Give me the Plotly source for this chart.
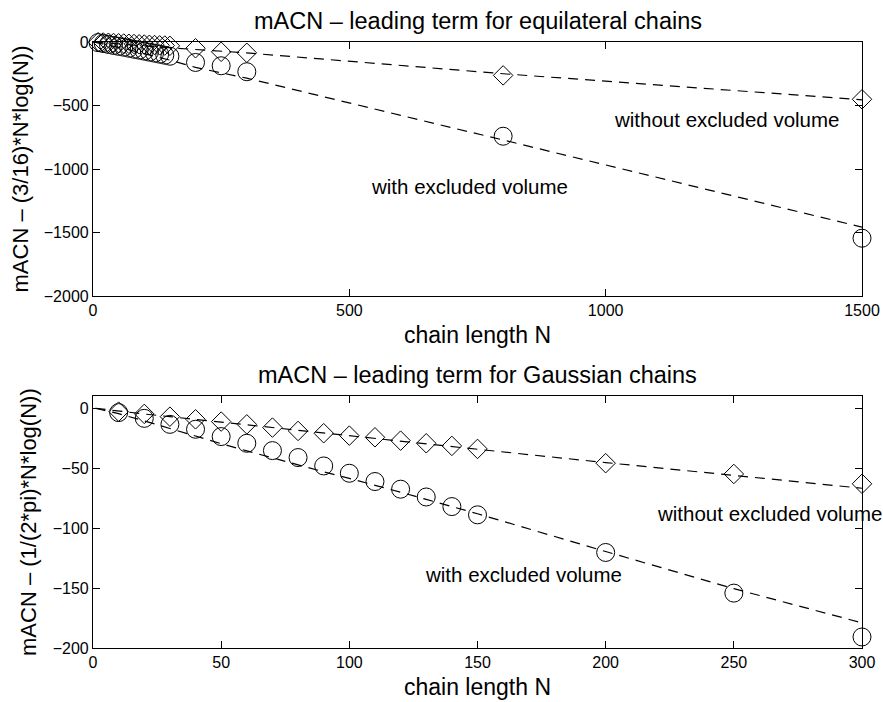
import plotly.graph_objects as go

# ---------------- data: top panel (equilateral chains) ----------------
n_eq = [10, 20, 30, 40, 50, 60, 70, 80, 90, 100, 110, 120, 130, 140, 150, 200, 250, 300, 800, 1500]
eq_without = [-2, -4, -6, -8, -10, -12, -14, -16, -18, -20, -22, -24, -26, -28, -30, -49, -77, -85, -263, -451]
eq_with = [-5, -12, -19, -27, -34, -41, -49, -57, -64, -72, -80, -88, -96, -104, -112, -161, -187, -234, -742, -1545]

n_eq_fit = [1, 10, 20, 30, 40, 50, 60, 70, 80, 90, 100, 110, 120, 130, 140, 150, 200, 250, 300, 800, 1500]
eq_without_fit = [0, -3, -6, -9, -12, -15, -18, -21, -24, -27, -30, -33, -36, -39, -42, -45, -59, -72, -86, -250, -455]
eq_with_fit = [0, -7, -15, -24, -33, -42, -51, -61, -71, -81, -91, -101, -111, -121, -132, -143, -200, -245, -285, -772, -1458]

# ---------------- data: bottom panel (Gaussian chains) ----------------
n_ga = [10, 20, 30, 40, 50, 60, 70, 80, 90, 100, 110, 120, 130, 140, 150, 200, 250, 300]
ga_without = [-2.8, -4.7, -7.0, -9.2, -11.1, -13.4, -16.1, -18.9, -20.8, -22.8, -24.2, -27.0, -29.2, -31.4, -33.9, -45.8, -54.8, -63.0]
ga_with = [-3.6, -8.4, -13.4, -17.5, -23.6, -29.2, -35.3, -41.1, -48.1, -54.2, -61.1, -67.5, -74.0, -82.0, -88.9, -120.3, -154.2, -190.8]

n_ga_fit = [1, 10, 20, 30, 40, 50, 60, 70, 80, 90, 100, 110, 120, 130, 140, 150, 200, 250, 300]
ga_without_fit = [0, -2.5, -4.8, -7.0, -9.3, -11.6, -13.9, -16.2, -18.4, -20.6, -22.8, -25.0, -27.5, -29.8, -32.0, -34.2, -45.3, -56.2, -66.7]
ga_with_fit = [0, -4.5, -10.5, -17.0, -23.5, -29.5, -35.5, -41.5, -47.5, -53.0, -58.5, -64.0, -70.0, -76.0, -82.0, -88.0, -119.5, -150.5, -179.0]

# labels
title_top = "mACN – leading term for equilateral chains"
title_bot = "mACN – leading term for Gaussian chains"
ylab_top = "mACN – (3/16)*N*log(N))"
ylab_bot = "mACN – (1/(2*pi)*N*log(N))"
xlab = "chain length N"
ann_without = "without excluded volume"
ann_with = "with excluded volume"

FONT = "Liberation Sans, Arial, Helvetica, sans-serif"
dash = "10px,7px"

fig = go.Figure()

def add_panel(xa, ya, nfit, fit_wo, fit_w, n, wo, w):
    fig.add_trace(go.Scatter(x=nfit, y=fit_wo, mode="lines", xaxis=xa, yaxis=ya,
                             line=dict(color="black", width=1.2, dash=dash), showlegend=False))
    fig.add_trace(go.Scatter(x=nfit, y=fit_w, mode="lines", xaxis=xa, yaxis=ya,
                             line=dict(color="black", width=1.2, dash=dash), showlegend=False))
    fig.add_trace(go.Scatter(x=n, y=wo, mode="markers", xaxis=xa, yaxis=ya, cliponaxis=False,
                             marker=dict(symbol="diamond-open", size=15, color="black",
                                         line=dict(color="black", width=1)), showlegend=False))
    fig.add_trace(go.Scatter(x=n, y=w, mode="markers", xaxis=xa, yaxis=ya, cliponaxis=False,
                             marker=dict(symbol="circle-open", size=18, color="black",
                                         line=dict(color="black", width=1)), showlegend=False))

add_panel("x", "y", n_eq_fit, eq_without_fit, eq_with_fit, n_eq, eq_without, eq_with)
add_panel("x2", "y2", n_ga_fit, ga_without_fit, ga_with_fit, n_ga, ga_without, ga_with)

axis_common = dict(showline=True, linecolor="black", linewidth=1.2, mirror="ticks",
                   ticks="inside", ticklen=7, tickwidth=1, tickcolor="black",
                   showgrid=False, zeroline=False, automargin=False,
                   tickfont=dict(family=FONT, size=16, color="black"))

W, H = 883, 702
ml, mr, mt, mb = 93, 21, 42, 54
ph = H - mt - mb  # 606
top_dom = [(ph - (296 - mt)) / ph, 1.0]
bot_dom = [0.0, (H - mb - 396.3) / ph]

fig.update_layout(
    width=W, height=H,
    margin=dict(l=ml, r=mr, t=mt, b=mb),
    paper_bgcolor="white", plot_bgcolor="white",
    font=dict(family=FONT, color="black"),
    xaxis=dict(axis_common, domain=[0, 1], anchor="y", range=[0, 1500],
               tickvals=[0, 500, 1000, 1500],
               title=dict(text=xlab, font=dict(family=FONT, size=23), standoff=8)),
    yaxis=dict(axis_common, domain=top_dom, anchor="x", range=[-2000, 0],
               tickvals=[0, -500, -1000, -1500, -2000],
               title=dict(text=ylab_top, font=dict(family=FONT, size=22), standoff=9)),
    xaxis2=dict(axis_common, domain=[0, 1], anchor="y2", range=[0, 300],
                tickvals=[0, 50, 100, 150, 200, 250, 300],
                title=dict(text=xlab, font=dict(family=FONT, size=23), standoff=8)),
    yaxis2=dict(axis_common, domain=bot_dom, anchor="x2", range=[-200, 10],
                tickvals=[0, -50, -100, -150, -200],
                title=dict(text=ylab_bot, font=dict(family=FONT, size=22), standoff=9)),
)

annotations = [
    dict(text=title_top, xref="paper", yref="paper", x=0.5, y=top_dom[1], xanchor="center",
         yanchor="bottom", yshift=6, showarrow=False, font=dict(family=FONT, size=23.5)),
    dict(text=title_bot, xref="paper", yref="paper", x=0.5, y=bot_dom[1], xanchor="center",
         yanchor="bottom", yshift=6, showarrow=False, font=dict(family=FONT, size=23.5)),
    dict(text=ann_without, xref="x", yref="y", x=1236, y=-608, showarrow=False,
         font=dict(family=FONT, size=20.5)),
    dict(text=ann_with, xref="x", yref="y", x=735, y=-1134, showarrow=False,
         font=dict(family=FONT, size=20.5)),
    dict(text=ann_without, xref="x2", yref="y2", x=264, y=-88, showarrow=False,
         font=dict(family=FONT, size=20.5)),
    dict(text=ann_with, xref="x2", yref="y2", x=168, y=-139, showarrow=False,
         font=dict(family=FONT, size=20.5)),
]
fig.update_layout(annotations=annotations)

# remove the browser's default 8px page margin so the figure fills the window exactly
fig.write_html("out.html", config={"displayModeBar": False},
               post_script="document.body.style.margin='0';document.body.style.overflow='hidden';")
